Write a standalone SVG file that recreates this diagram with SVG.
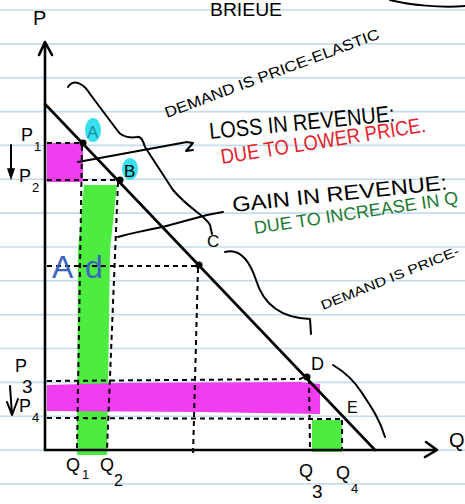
<svg xmlns="http://www.w3.org/2000/svg" width="465" height="504" viewBox="0 0 465 504">
<defs>
<style>
.rule{stroke:#c4dcec;stroke-width:1.6}
.ax{stroke:#000;stroke-width:2.6;fill:none;stroke-linecap:round;stroke-linejoin:round}
.ink{stroke:#000;stroke-width:2;fill:none;stroke-linecap:round;stroke-linejoin:round}
.dash{stroke:#000;stroke-width:2;fill:none;stroke-dasharray:5 4}
.t{font-family:"Liberation Sans",Arial,sans-serif;fill:#000}
.red{fill:#e5202a}
.grn{fill:#1a7a30}
.blu{fill:#3a64c0}
.dot{fill:#000}
.mag{fill:#f23cf0}
.gr{fill:#4cec40}
.cy{fill:#36e0ec}
</style>
</defs>
<rect width="465" height="504" fill="#fff"/>
<g id="ruling">
<line class="rule" x1="0" y1="10" x2="465" y2="10"/>
<line class="rule" x1="0" y1="43.9" x2="465" y2="43.9"/>
<line class="rule" x1="0" y1="77.7" x2="465" y2="77.7"/>
<line class="rule" x1="0" y1="111.6" x2="465" y2="111.6"/>
<line class="rule" x1="0" y1="145.4" x2="465" y2="145.4"/>
<line class="rule" x1="0" y1="179.3" x2="465" y2="179.3"/>
<line class="rule" x1="0" y1="213.1" x2="465" y2="213.1"/>
<line class="rule" x1="0" y1="247" x2="465" y2="247"/>
<line class="rule" x1="0" y1="280.8" x2="465" y2="280.8"/>
<line class="rule" x1="0" y1="314.7" x2="465" y2="314.7"/>
<line class="rule" x1="0" y1="348.5" x2="465" y2="348.5"/>
<line class="rule" x1="0" y1="382.4" x2="465" y2="382.4"/>
<line class="rule" x1="0" y1="416.2" x2="465" y2="416.2"/>
<line class="rule" x1="0" y1="450.1" x2="465" y2="450.1"/>
<line class="rule" x1="0" y1="483.9" x2="465" y2="483.9"/>
</g>
<g id="areas">
<rect id="loss-top" class="mag" x="47" y="143" width="36" height="39"/>
<polygon id="gain-left" class="gr" points="84,185 117,185 110,250 107,455 77,455 78,250"/>
<polygon id="loss-bottom" class="mag" points="47,385 120,383 300,382 320,384 320,414 200,412 47,411"/>
<rect id="gain-right" class="gr" x="312" y="420" width="30" height="32"/>
<ellipse class="cy" cx="93" cy="130" rx="8" ry="12"/>
<ellipse class="cy" cx="130" cy="169" rx="8" ry="11"/>
</g>
<g id="connectors">
<path class="dash" d="M47,143 L83,143"/>
<path class="dash" d="M82,146 L77,450"/>
<path class="dash" d="M47,180 L120,180"/>
<path class="dash" d="M118,182 L107,450"/>
<path class="dash" d="M47,266 L199,266"/>
<path class="dash" d="M198,268 L193,455"/>
<path class="dash" d="M47,381 L300,379 L307,376"/>
<path class="dash" d="M309,379 L310,450"/>
<path class="dash" d="M47,418 L342,419"/>
<path class="dash" d="M342,420 L342,450"/>
<path class="ink" d="M78,162 L187,142 M186,142 L193,143 L186,151 L193,150"/>
<path class="ink" d="M118,237 C135,232 150,230 170,225 L207,215 L223,212"/>
<path class="ink" d="M68,87 C74,78 84,84 90,94 L117,130 C122,138 130,138 137,137 C141,136 143,140 145,147 L173,190 C190,210 205,215 210,225 L212,234"/>
<path class="ink" d="M225,252 C240,248 250,262 256,280 C263,303 280,318 310,319 L311,334"/>
<path class="ink" d="M333,365 C345,372 355,382 362,393 C372,408 380,420 385,437"/>
<path class="ink" d="M390,0 C410,5 440,8 465,6"/>
</g>
<g id="axes">
<path class="ax" d="M45,450 L45,42 M39,55 L45,42 L52,55"/>
<path class="ax" d="M45,450 L437,450 M426,442 L437,450 L425,457"/>
<path class="ax" d="M45,104 L375,450"/>
<path class="ink" d="M11,145 L11,175"/>
<path d="M8,169 L14,169 L11,178 Z" fill="#000" stroke="#000" stroke-width="1.5"/>
<path class="ink" d="M10,386 L12,415 M7,402 L12,415 L18,399"/>
</g>
<g id="points">
<circle class="dot" cx="83" cy="143" r="3.5"/>
<circle class="dot" cx="120" cy="180" r="3.5"/>
<circle class="dot" cx="199" cy="265" r="3.5"/>
<circle class="dot" cx="307" cy="377" r="3.5"/>
</g>
<g id="labels">
<text class="t" x="33" y="25" font-size="20">P</text>
<text class="t" x="449" y="447" font-size="20">Q</text>
<text class="t" x="210" y="16" font-size="18" textLength="72" lengthAdjust="spacingAndGlyphs">BRIEUE</text>
<text class="t" x="21" y="141" font-size="18">P</text><text class="t" x="34" y="151" font-size="13">1</text>
<text class="t" x="19" y="182" font-size="18">P</text><text class="t" x="32" y="192" font-size="13">2</text>
<text class="t" x="15" y="372" font-size="18">P</text><text class="t" x="22" y="393" font-size="19">3</text>
<text class="t" x="19" y="412" font-size="18">P</text><text class="t" x="32" y="422" font-size="13">4</text>
<text class="t" x="66" y="471" font-size="18">Q</text><text class="t" x="82" y="479" font-size="13">1</text>
<text class="t" x="100" y="471" font-size="18">Q</text><text class="t" x="114" y="486" font-size="16">2</text>
<text class="t" x="299" y="477" font-size="18">Q</text><text class="t" x="312" y="498" font-size="19">3</text>
<text class="t" x="336" y="479" font-size="18">Q</text><text class="t" x="351" y="493" font-size="13">4</text>
<text class="t" x="87" y="138" font-size="17" style="fill:#1a8ea0">A</text>
<text class="t" x="124" y="177" font-size="17">B</text>
<text class="t" x="207" y="247" font-size="17">C</text>
<text class="t" x="311" y="370" font-size="18">D</text>
<text class="t" x="347" y="413" font-size="16">E</text>
<text class="t blu" x="52" y="278" font-size="32">A</text>
<text class="t blu" x="85" y="278" font-size="32">d</text>
<text class="t" transform="translate(167,118) rotate(-20.5)" font-size="15" textLength="228" lengthAdjust="spacingAndGlyphs">DEMAND IS PRICE-ELASTIC</text>
<text class="t" transform="translate(210,139) rotate(-5.5)" font-size="23" textLength="186" lengthAdjust="spacingAndGlyphs">LOSS IN REVENUE:</text>
<text class="t red" transform="translate(222,164) rotate(-9)" font-size="21" textLength="207" lengthAdjust="spacingAndGlyphs">DUE TO LOWER PRICE.</text>
<text class="t" transform="translate(233,212) rotate(-6)" font-size="21" textLength="216" lengthAdjust="spacingAndGlyphs">GAIN IN REVENUE:</text>
<text class="t grn" transform="translate(255,234) rotate(-8.5)" font-size="18" textLength="206" lengthAdjust="spacingAndGlyphs">DUE TO INCREASE IN Q</text>
<text class="t" transform="translate(323,310) rotate(-22)" font-size="13" textLength="148" lengthAdjust="spacingAndGlyphs">DEMAND IS PRICE-</text>
</g>
</svg>
